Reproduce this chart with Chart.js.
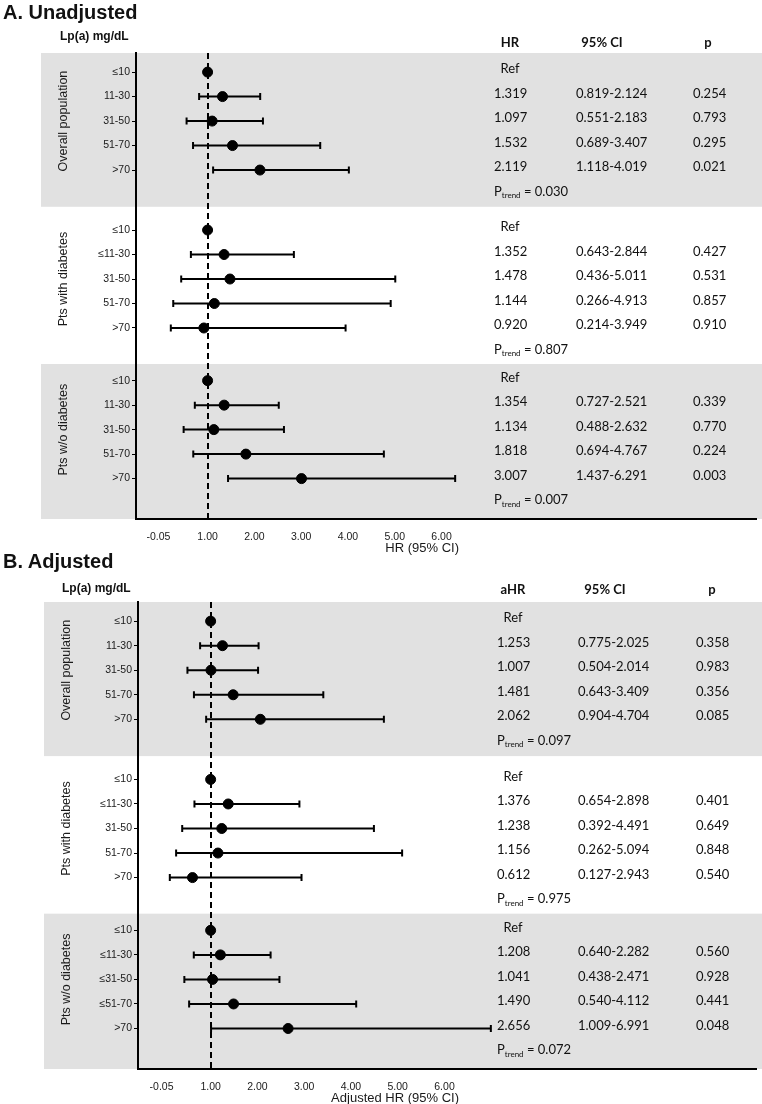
<!DOCTYPE html>
<html>
<head>
<meta charset="utf-8">
<script src="https://cdn.jsdelivr.net/npm/chart.js@4.4.1/dist/chart.umd.min.js"></script>
<style>
  body { margin: 0; background: #fff; width: 762px; height: 1104px; position: relative; overflow: hidden;
         font-family: "Liberation Sans", Arial, sans-serif; color: #111; }
  canvas { position: absolute; left: 0; }
  .ttl { position: absolute; left: 3px; font-weight: bold; font-size: 20px; line-height: 20px; }
  .lp { position: absolute; font-weight: bold; font-size: 12px; line-height: 12px; }
</style>
</head>
<body>
<canvas id="chartA" width="762" height="556" style="top:0"></canvas>
<canvas id="chartB" width="762" height="548" style="top:556px"></canvas>
<div class="ttl" style="top:2px">A. Unadjusted</div>
<div class="lp" style="top:30px; left:60px">Lp(a) mg/dL</div>
<div class="ttl" style="top:551px">B. Adjusted</div>
<div class="lp" style="top:582px; left:62px">Lp(a) mg/dL</div>
<script>
// groups and Lp(a) categories
const groupNames = ['Overall population', 'Pts with diabetes', 'Pts w/o diabetes'];

const lpLabelsA = [
  ['≤10', '11-30', '31-50', '51-70', '>70'],
  ['≤10', '≤11-30', '31-50', '51-70', '>70'],
  ['≤10', '11-30', '31-50', '51-70', '>70']
];
const lpLabelsB = [
  ['≤10', '11-30', '31-50', '51-70', '>70'],
  ['≤10', '≤11-30', '31-50', '51-70', '>70'],
  ['≤10', '≤11-30', '≤31-50', '≤51-70', '>70']
];

// A. unadjusted
const hrA = [
  [1, 1.319, 1.097, 1.532, 2.119],
  [1, 1.352, 1.478, 1.144, 0.920],
  [1, 1.354, 1.134, 1.818, 3.007]
];
const ciLowA = [
  [null, 0.819, 0.551, 0.689, 1.118],
  [null, 0.643, 0.436, 0.266, 0.214],
  [null, 0.727, 0.488, 0.694, 1.437]
];
const ciHighA = [
  [null, 2.124, 2.183, 3.407, 4.019],
  [null, 2.844, 5.011, 4.913, 3.949],
  [null, 2.521, 2.632, 4.767, 6.291]
];
const pValA = [
  [null, '0.254', '0.793', '0.295', '0.021'],
  [null, '0.427', '0.531', '0.857', '0.910'],
  [null, '0.339', '0.770', '0.224', '0.003']
];
const pTrendA = ['0.030', '0.807', '0.007'];

// B. adjusted
const hrB = [
  [1, 1.253, 1.007, 1.481, 2.062],
  [1, 1.376, 1.238, 1.156, 0.612],
  [1, 1.208, 1.041, 1.490, 2.656]
];
const ciLowB = [
  [null, 0.775, 0.504, 0.643, 0.904],
  [null, 0.654, 0.392, 0.262, 0.127],
  [null, 0.640, 0.438, 0.540, 1.009]
];
const ciHighB = [
  [null, 2.025, 2.014, 3.409, 4.704],
  [null, 2.898, 4.491, 5.094, 2.943],
  [null, 2.282, 2.471, 4.112, 6.991]
];
const pValB = [
  [null, '0.358', '0.983', '0.356', '0.085'],
  [null, '0.401', '0.649', '0.848', '0.540'],
  [null, '0.560', '0.928', '0.441', '0.048']
];
const pTrendB = ['0.097', '0.975', '0.072'];

const xTicks = [-0.05, 1, 2, 3, 4, 5, 6];

// row layout (in row units, y axis reversed)
const sectionBase = [0, 6.45, 12.6];
const rowPos = (s, i) => sectionBase[s] + i;

function makeForest(id, cfg) {
  const points = [];
  const yRows = [];
  const yLabels = [];
  cfg.hr.forEach((row, s) => row.forEach((v, i) => {
    points.push({ x: v, y: rowPos(s, i) });
    yRows.push(rowPos(s, i));
    yLabels.push(cfg.labels[s][i]);
  }));

  const tableFont = '13px Lato';
  const plugin = {
    id: 'forest',
    beforeDraw(chart) {
      const { ctx, chartArea, scales: { y } } = chart;
      ctx.save();
      ctx.fillStyle = '#e1e1e1';
      const b1 = y.getPixelForValue(5.5);
      const b3 = y.getPixelForValue(11.92);
      ctx.fillRect(cfg.bandLeft, chartArea.top, chart.width - cfg.bandLeft, b1 - chartArea.top);
      ctx.fillRect(cfg.bandLeft, b3, chart.width - cfg.bandLeft, chartArea.bottom - b3);
      ctx.restore();
    },
    beforeDatasetsDraw(chart) {
      const { ctx, chartArea, scales: { x, y } } = chart;
      ctx.save();
      // reference line at HR = 1
      ctx.strokeStyle = '#000';
      ctx.lineWidth = 2;
      ctx.setLineDash([6, 4]);
      const x1 = Math.round(x.getPixelForValue(1));
      ctx.beginPath();
      ctx.moveTo(x1, chartArea.top);
      ctx.lineTo(x1, chartArea.bottom);
      ctx.stroke();
      ctx.setLineDash([]);
      // CI bars
      cfg.lo.forEach((row, s) => row.forEach((lo, i) => {
        if (lo == null) return;
        const hi = cfg.hi[s][i];
        const py = y.getPixelForValue(rowPos(s, i));
        const pl = x.getPixelForValue(lo);
        const ph = x.getPixelForValue(hi);
        ctx.beginPath();
        ctx.moveTo(pl, py); ctx.lineTo(ph, py);
        ctx.moveTo(pl, py - 3.5); ctx.lineTo(pl, py + 3.5);
        ctx.moveTo(ph, py - 3.5); ctx.lineTo(ph, py + 3.5);
        ctx.stroke();
      }));
      ctx.restore();
    },
    afterDraw(chart) {
      const { ctx, chartArea, scales: { y } } = chart;
      ctx.save();
      ctx.fillStyle = '#111';
      ctx.textBaseline = 'middle';

      // column headers
      ctx.font = 'bold 13px Lato';
      ctx.textAlign = 'center';
      ctx.fillText(cfg.hrHead, cfg.headX[0], cfg.headY);
      ctx.fillText('95% CI', cfg.headX[1], cfg.headY);
      ctx.fillText('p', cfg.headX[2], cfg.headY);

      // table rows
      ctx.font = tableFont;
      cfg.hr.forEach((row, s) => {
        row.forEach((v, i) => {
          const ty = y.getPixelForValue(rowPos(s, i)) - 3;
          const lo = cfg.lo[s][i];
          if (lo == null) {
            ctx.textAlign = 'center';
            ctx.fillText('Ref', cfg.headX[0], ty);
            return;
          }
          ctx.textAlign = 'left';
          ctx.fillText(v.toFixed(3), cfg.colX[0], ty);
          ctx.fillText(lo.toFixed(3) + '-' + cfg.hi[s][i].toFixed(3), cfg.colX[1], ty);
          ctx.fillText(cfg.p[s][i], cfg.colX[2], ty);
        });
        // P trend
        const ty = y.getPixelForValue(sectionBase[s] + 5) - 3;
        let tx = cfg.colX[0];
        ctx.textAlign = 'left';
        ctx.font = tableFont;
        ctx.fillText('P', tx, ty);
        tx += ctx.measureText('P').width;
        ctx.font = '8px Lato';
        ctx.fillText('trend', tx, ty + 4);
        tx += ctx.measureText('trend').width;
        ctx.font = tableFont;
        ctx.fillText(' = ' + cfg.trend[s], tx, ty);
      });

      // group labels (rotated)
      ctx.font = '12.5px "Liberation Sans"';
      ctx.fillStyle = '#1a1a1a';
      ctx.textAlign = 'center';
      groupNames.forEach((name, s) => {
        ctx.save();
        ctx.translate(cfg.groupX, y.getPixelForValue(sectionBase[s] + 2));
        ctx.rotate(-Math.PI / 2);
        ctx.fillText(name, 0, 0);
        ctx.restore();
      });

      // x axis title
      ctx.font = '13px "Liberation Sans"';
      ctx.textAlign = 'right';
      ctx.fillText(cfg.xTitle, 459, chartArea.bottom + 29);
      ctx.restore();
    }
  };

  return new Chart(document.getElementById(id), {
    type: 'scatter',
    data: {
      datasets: [{
        data: points,
        backgroundColor: '#000',
        borderColor: '#000',
        pointRadius: 5,
        pointHoverRadius: 5
      }]
    },
    options: {
      responsive: false,
      animation: false,
      events: [],
      layout: { padding: { left: 0, right: 3, top: cfg.top, bottom: 0 } },
      plugins: { legend: { display: false }, tooltip: { enabled: false } },
      scales: {
        x: {
          type: 'linear',
          min: cfg.xMin,
          max: cfg.xMax,
          afterBuildTicks: ax => { ax.ticks = xTicks.map(v => ({ value: v })); },
          afterFit: ax => { ax.height = cfg.xHeight; },
          grid: { display: false },
          border: { display: true, color: '#000', width: 2 },
          ticks: {
            padding: 4, color: '#1a1a1a', autoSkip: false, maxRotation: 0,
            font: { family: 'Liberation Sans', size: 10.5 },
            callback: v => Number(v).toFixed(2)
          }
        },
        y: {
          type: 'linear',
          reverse: true,
          min: -0.78,
          max: 18.25,
          afterBuildTicks: ax => { ax.ticks = yRows.map(v => ({ value: v })); },
          afterFit: ax => { ax.width = cfg.yWidth; },
          grid: { display: true, drawOnChartArea: false, drawTicks: true, tickLength: 4, color: '#000', lineWidth: 1 },
          border: { display: true, color: '#000', width: 2 },
          ticks: {
            padding: 2, color: '#1a1a1a', autoSkip: false,
            font: { family: 'Liberation Sans', size: 10.5 },
            callback: (v, i) => yLabels[i]
          }
        }
      }
    },
    plugins: [plugin]
  });
}

makeForest('chartA', {
  labels: lpLabelsA, hr: hrA, lo: ciLowA, hi: ciHighA, p: pValA, trend: pTrendA,
  hrHead: 'HR', xTitle: 'HR (95% CI)',
  top: 53, xHeight: 37, yWidth: 136, xMin: -0.53, xMax: 12.72,
  bandLeft: 41, groupX: 64, headY: 43,
  headX: [510, 602, 708], colX: [494, 576, 693]
});

makeForest('chartB', {
  labels: lpLabelsB, hr: hrB, lo: ciLowB, hi: ciHighB, p: pValB, trend: pTrendB,
  hrHead: 'aHR', xTitle: 'Adjusted HR (95% CI)',
  top: 46, xHeight: 35, yWidth: 138, xMin: -0.553, xMax: 12.66,
  bandLeft: 44, groupX: 67, headY: 34,
  headX: [513, 605, 712], colX: [497, 578, 696]
});
</script>
</body>
</html>
